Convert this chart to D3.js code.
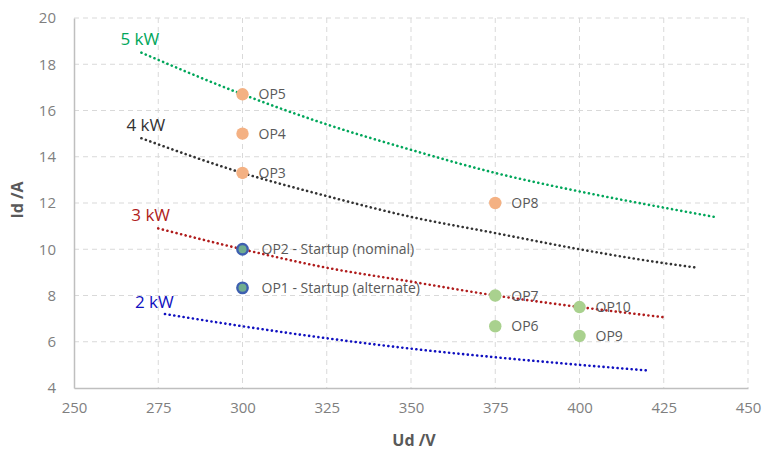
<!DOCTYPE html>
<html><head><meta charset="utf-8">
<script src="https://cdn.jsdelivr.net/npm/d3@7"></script>
<style>body{margin:0;background:#fff}svg{font-family:"Open Sans",sans-serif}</style>
</head><body><svg id="c" width="767" height="452"></svg>
<script>
const xTicks=[250,275,300,325,350,375,400,425,450];
const yTicks=[4,6,8,10,12,14,16,18,20];
const curveNames=["5 kW","4 kW","3 kW","2 kW"];
const curveColors=["#00a65a","#333333","#b01c1c","#1010c0"];
const u5=[270,300,325,350,375,400,425,440];
const i5=[18.5,16.7,15.4,14.3,13.3,12.5,11.8,11.4];
const u4=[270,300,325,350,375,400,425,435];
const i4=[14.8,13.3,12.3,11.4,10.7,10.0,9.4,9.2];
const u3=[275,300,325,350,375,400,425];
const i3=[10.9,10.0,9.2,8.6,8.0,7.5,7.06];
const u2=[277,300,325,350,375,400,420];
const i2=[7.2,6.67,6.15,5.7,5.33,5.0,4.76];
const curveU=[u5,u4,u3,u2];
const curveI=[i5,i4,i3,i2];
const opNames=["OP5","OP4","OP3","OP8","OP2 - Startup (nominal)","OP1 - Startup (alternate)","OP7","OP6","OP10","OP9"];
const opU=[300,300,300,375,300,300,375,375,400,400];
const opI=[16.7,15,13.3,12,10,8.33,8,6.67,7.5,6.25];
const opType=["o","o","o","o","s","s","g","g","g","g"];

const svg=d3.select("#c");
const x=d3.scaleLinear().domain([250,450]).range([74,748]);
const y=d3.scaleLinear().domain([4,20]).range([388,18]);

// grid
svg.append("g").selectAll("line").data(yTicks.slice(1)).join("line")
 .attr("x1",74).attr("x2",748).attr("y1",d=>y(d)).attr("y2",d=>y(d))
 .attr("stroke","#d9d9d9").attr("stroke-dasharray","5,4");
svg.append("g").selectAll("line").data(xTicks.slice(1)).join("line")
 .attr("y1",18).attr("y2",388).attr("x1",d=>x(d)).attr("x2",d=>x(d))
 .attr("stroke","#d9d9d9").attr("stroke-dasharray","5,4");
// axes
const xa=svg.append("g").attr("transform","translate(0,388)").call(d3.axisBottom(x).tickValues(xTicks).tickSize(0).tickPadding(14));
const ya=svg.append("g").attr("transform","translate(74,0)").call(d3.axisLeft(y).tickValues(yTicks).tickSize(0).tickPadding(18));
[xa,ya].forEach(a=>{a.select(".domain").attr("stroke","#bfbfbf").attr("stroke-width",1.5);
 a.selectAll("text").attr("fill","#7f7f7f").style("font-size","15px").style("font-family","'Open Sans',sans-serif");});

svg.append("text").attr("x",414).attr("y",446).attr("text-anchor","middle").attr("fill","#595959")
 .style("font-size","16px").style("font-weight","bold").text("Ud /V");
svg.append("text").attr("transform","translate(23,200) rotate(-90)").attr("text-anchor","middle").attr("fill","#595959")
 .style("font-size","16px").style("font-weight","bold").text("Id /A");

// curves
const line=d3.line().x(d=>x(d[0])).y(d=>y(d[1])).curve(d3.curveMonotoneX);
const labDx=[-21,-15,-27,-30], labDy=[-8,-7,-7,-6];
curveU.forEach((us,k)=>{
 const pts=us.map((u,j)=>[u,curveI[k][j]]);
 svg.append("path").attr("d",line(pts)).attr("fill","none").attr("stroke",curveColors[k])
  .attr("stroke-width",2.6).attr("stroke-linecap","round").attr("stroke-dasharray","0.1,4.6");
 svg.append("text").attr("x",x(us[0])+labDx[k]).attr("y",y(curveI[k][0])+labDy[k])
  .attr("fill",curveColors[k]).style("font-size","17px").text(curveNames[k]);
});

// points
const fills={o:"#f4b183",s:"#70ad8f",g:"#a9d18e"};
opNames.forEach((n,k)=>{
 const t=opType[k];
 svg.append("circle").attr("cx",x(opU[k])).attr("cy",y(opI[k])).attr("r",t==="s"?5.2:6.2)
  .attr("fill",fills[t]).attr("stroke",t==="s"?"#3e5fb0":"none").attr("stroke-width",t==="s"?2.4:0);
 svg.append("text").attr("x",x(opU[k])+(t==="s"?19:16)).attr("y",y(opI[k])+5)
  .attr("fill","#595959").style("font-size","14px").text(n);
});
</script></body></html>
